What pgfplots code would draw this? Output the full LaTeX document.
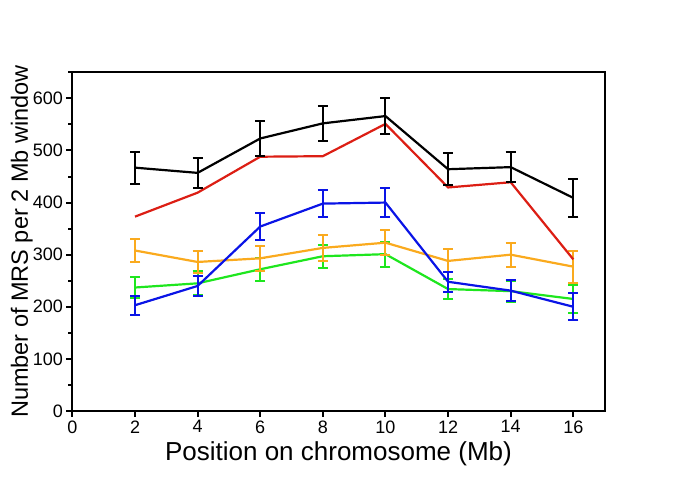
\documentclass[border=0pt]{standalone}
\usepackage{pgfplots}
\pgfplotsset{compat=1.18}
\usepackage{fontspec}
\setmainfont{Liberation Sans}

\definecolor{cred}{RGB}{220,30,20}
\definecolor{cblue}{RGB}{10,20,230}
\definecolor{corange}{RGB}{250,170,30}
\definecolor{cgreen}{RGB}{30,230,30}

\pgfplotsset{
  ebar/.style={line width=2.2pt, mark=none,
    error bars/.cd, y dir=both, y explicit,
    error bar style={line width=2pt},
    error mark options={rotate=90, mark size=5pt, line width=2pt}},
}

\begin{document}
\begin{tikzpicture}
\useasboundingbox (-72.4pt,-73pt) rectangle (612.6pt,411pt);
\begin{axis}[
  scale only axis,
  width=532.2pt, height=338.7pt,
  xmin=0, xmax=17, ymin=0, ymax=650,
  xtick={0,2,...,16}, ytick={0,100,...,600},
  minor ytick={50,150,...,650},
  tick pos=left, tick align=outside,
  major tick length=6pt, minor tick length=4pt,
  every tick/.style={black, line width=2pt},
  axis line style={line width=2.2pt},
  /pgf/number format/assume math mode=true,
  ticklabel style={font=\fontsize{18}{20}\selectfont},
  xlabel={Position on chromosome (Mb)},
  ylabel={Number of MRS per 2 Mb window},
  xlabel style={font=\fontsize{26}{28}\selectfont, at={(axis description cs:0.5,-0.145)}, anchor=base},
  ylabel style={font=\fontsize{23.5}{26}\selectfont, at={(axis description cs:-0.095,0.5)}, anchor=center, rotate=0},
]
% green
\addplot[cgreen, ebar] coordinates {
 (2,237) +- (0,20) (4,245) +- (0,23) (6,272) +- (0,22) (8,297) +- (0,22)
 (10,301) +- (0,24) (12,234) +- (0,20) (14,230) +- (0,20) (16,215) +- (0,26)};
% orange
\addplot[corange, ebar] coordinates {
 (2,308) +- (0,23) (4,286) +- (0,22) (6,293) +- (0,24) (8,313) +- (0,25)
 (10,323) +- (0,24) (12,288) +- (0,22) (14,300) +- (0,23) (16,277) +- (0,31)};
% red, no error bars
\addplot[cred, line width=2.2pt, mark=none] coordinates {
 (2,373) (4,419) (6,488) (8,489) (10,551) (12,429) (14,439) (16,291)};
% blue
\addplot[cblue, ebar] coordinates {
 (2,203) +- (0,18) (4,240) +- (0,19) (6,354) +- (0,26) (8,398) +- (0,26)
 (10,400) +- (0,27) (12,248) +- (0,19) (14,231) +- (0,20) (16,200) +- (0,26)};
% black
\addplot[black, ebar] coordinates {
 (2,467) +- (0,31) (4,457) +- (0,29) (6,523) +- (0,33) (8,552) +- (0,33)
 (10,566) +- (0,34) (12,464) +- (0,31) (14,468) +- (0,29) (16,409) +- (0,37)};
\end{axis}
\end{tikzpicture}
\end{document}
